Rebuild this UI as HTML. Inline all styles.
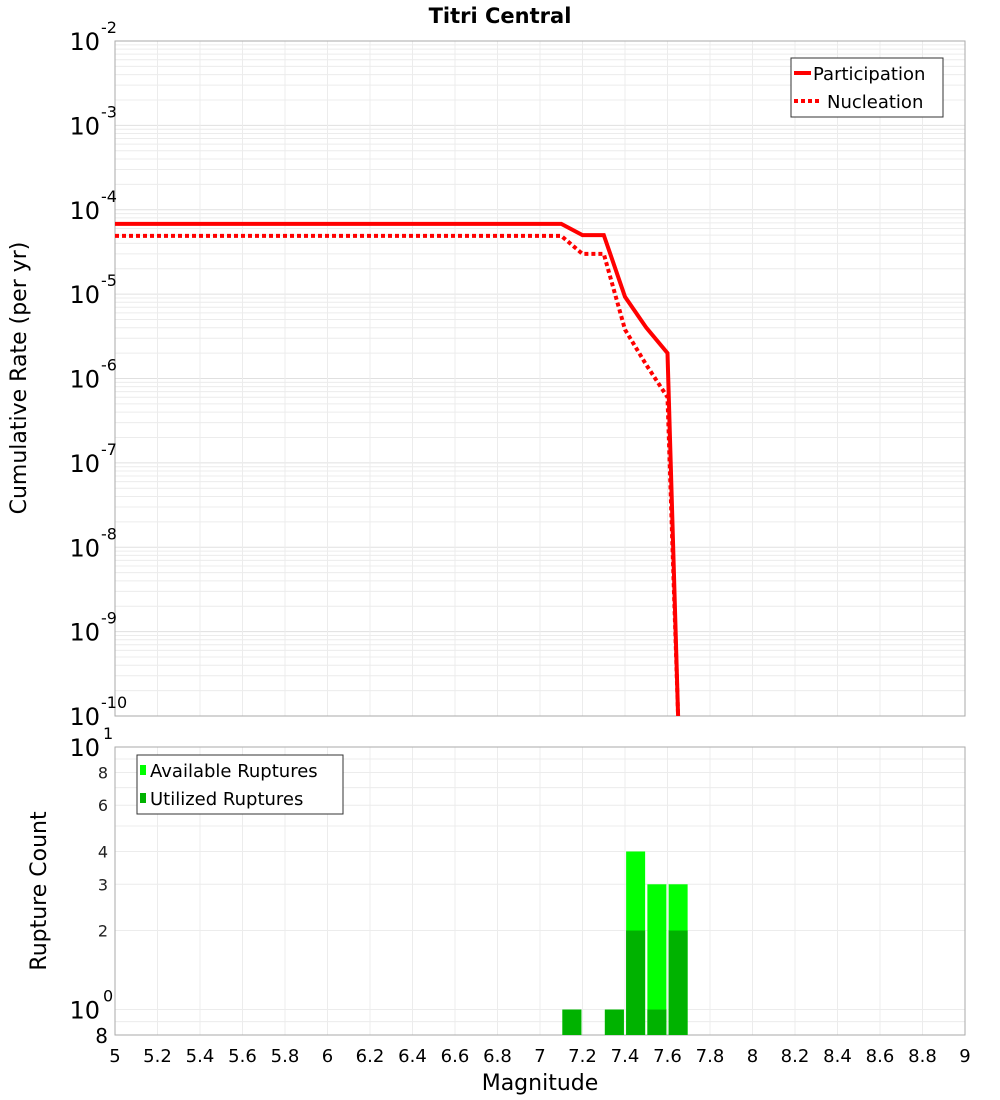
<!DOCTYPE html>
<html><head><meta charset="utf-8"><style>
html,body{margin:0;padding:0;background:#fff;}
svg{display:block;font-family:"DejaVu Sans","Liberation Sans",sans-serif;}
</style></head><body>
<svg id="chart" width="1000" height="1100" viewBox="0 0 1000 1100" xmlns="http://www.w3.org/2000/svg">
<text x="500" y="23" text-anchor="middle" font-size="21" font-weight="bold">Titri Central</text>
<g id="topPlot"></g>
<g id="botPlot"></g>
<text transform="translate(26,378) rotate(-90)" text-anchor="middle" font-size="22">Cumulative Rate (per yr)</text>
<text transform="translate(46,891) rotate(-90)" text-anchor="middle" font-size="22">Rupture Count</text>
<text x="540" y="1090" text-anchor="middle" font-size="22">Magnitude</text>
</svg>
<script>
const magsPart = [5.0, 7.1, 7.2, 7.3, 7.4, 7.5, 7.6, 7.65];
const ratePart = [6.8e-5, 6.8e-5, 5e-5, 5e-5, 9.3e-6, 4e-6, 2e-6, 1e-10];
const magsNucl = [5.0, 7.1, 7.2, 7.3, 7.4, 7.5, 7.6, 7.65];
const rateNucl = [4.9e-5, 4.9e-5, 3e-5, 3e-5, 3.8e-6, 1.45e-6, 6e-7, 1e-10];
const barMags = [7.15, 7.35, 7.45, 7.55, 7.65];
const availCounts = [1, 1, 4, 3, 3];
const usedCounts = [1, 1, 2, 1, 2];
const xTicks = [5,5.2,5.4,5.6,5.8,6,6.2,6.4,6.6,6.8,7,7.2,7.4,7.6,7.8,8,8.2,8.4,8.6,8.8,9];
const rateExps = [-2,-3,-4,-5,-6,-7,-8,-9,-10];
const countTicks = [2,3,4,6,8];

const NS="http://www.w3.org/2000/svg";
const X0=115,X1=965;
const xs=m=>X0+(m-5)/4*(X1-X0);
const T0=41,T1=716;
const yr=v=>T0+(-2-Math.log10(v))/8*(T1-T0);
const B0=747,B1=1035;
const lo=Math.log10(0.8),hi=1;
const yc=v=>B1-(Math.log10(v)-lo)/(hi-lo)*(B1-B0);
function mk(p,tag,a){const e=document.createElementNS(NS,tag);for(const k in a)e.setAttribute(k,a[k]);p.appendChild(e);return e;}
const topG=document.getElementById('topPlot'),botG=document.getElementById('botPlot');

for(let d=-10;d<-2;d++)for(let k=1;k<10;k++){const y=yr(k*Math.pow(10,d));
 const g=mk(topG,'line',{x1:X0,x2:X1,y1:y,y2:y,stroke:k==1?'#e0e0e0':'#ececec','stroke-width':1});
 
 }
for(let v of [0.8,0.9,1,2,3,4,5,6,7,8,9]){const y=yc(v);
 const g=mk(botG,'line',{x1:X0,x2:X1,y1:y,y2:y,stroke:'#ececec','stroke-width':1});
 
 }
xTicks.forEach(t=>{const x=xs(t);
 let g=mk(topG,'line',{x1:x,x2:x,y1:T0,y2:T1,stroke:'#ececec'});
 
 
 g=mk(botG,'line',{x1:x,x2:x,y1:B0,y2:B1,stroke:'#ececec'});
 
 
 const tx=mk(botG,'text',{x:x,y:1062,'text-anchor':'middle','font-size':18});tx.textContent=String(t);
 
 
});
let f=mk(topG,'rect',{x:X0,y:T0,width:X1-X0,height:T1-T0,fill:'none',stroke:'#aaa'});


f=mk(botG,'rect',{x:X0,y:B0,width:X1-X0,height:B1-B0,fill:'none',stroke:'#aaa'});



rateExps.forEach(e=>{const y=yr(Math.pow(10,e));
 const t=mk(topG,'text',{x:100,y:y+9,'text-anchor':'end','font-size':24});
 
 
 t.textContent='10';
 const s=mk(topG,'text',{x:101,y:y-8,'font-size':16});s.textContent=String(e);
 
 
});
[[10,'1'],[1,'0']].forEach(([v,e])=>{const y=yc(v);
 const t=mk(botG,'text',{x:100,y:y+9,'text-anchor':'end','font-size':24});t.textContent='10';
 
 
 const s=mk(botG,'text',{x:103,y:y-8,'font-size':16});s.textContent=e;
 
 
});
countTicks.forEach(v=>{const y=yc(v);
 const t=mk(botG,'text',{x:108,y:y+6,'text-anchor':'end','font-size':16,fill:'#222'});t.textContent=String(v);
 
 });
let t8=mk(botG,'text',{x:108,y:B1+8,'text-anchor':'end','font-size':20});t8.textContent='8';



const clip=mk(topG,'clipPath',{id:'clipTop'});mk(clip,'rect',{x:X0,y:T0,width:X1-X0,height:T1-T0});
function path(ms,vs){return ms.map((m,i)=>(i?'L':'M')+xs(m).toFixed(1)+','+yr(vs[i]).toFixed(1)).join(' ');}
let p=mk(topG,'path',{d:path(magsNucl,rateNucl),fill:'none',stroke:'#f00','stroke-width':4,'stroke-dasharray':'4,3','clip-path':'url(#clipTop)'});


p=mk(topG,'path',{d:path(magsPart,ratePart),fill:'none',stroke:'#f00','stroke-width':4,'clip-path':'url(#clipTop)'});



let lg=mk(topG,'g',{});


mk(lg,'rect',{x:791,y:58,width:152,height:59,fill:'#fff',stroke:'#333'});
mk(lg,'line',{x1:794,x2:811,y1:73,y2:73,stroke:'#f00','stroke-width':4});
mk(lg,'line',{x1:794,x2:822,y1:101,y2:101,stroke:'#f00','stroke-width':4,'stroke-dasharray':'4,3'});
let lt=mk(lg,'text',{x:813,y:80,'font-size':18});lt.textContent='Participation';


lt=mk(lg,'text',{x:827,y:108,'font-size':18});lt.textContent='Nucleation';



const bw=19;
barMags.forEach((m,i)=>{const x=xs(m)-bw/2;
 let r=mk(botG,'rect',{x:x,y:yc(availCounts[i]),width:bw,height:B1-yc(availCounts[i]),fill:'#00ff00'});
 
 
 r=mk(botG,'rect',{x:x,y:yc(usedCounts[i]),width:bw,height:B1-yc(usedCounts[i]),fill:'#00b200'});
 
 
});
lg=mk(botG,'g',{});


mk(lg,'rect',{x:137,y:755,width:206,height:59,fill:'#fff',stroke:'#333'});
mk(lg,'rect',{x:140,y:765,width:6,height:10,fill:'#00ff00'});
mk(lg,'rect',{x:140,y:793,width:6,height:10,fill:'#00b200'});
lt=mk(lg,'text',{x:150,y:777,'font-size':18});lt.textContent='Available Ruptures';


lt=mk(lg,'text',{x:150,y:805,'font-size':18});lt.textContent='Utilized Ruptures';


</script>
</body></html>
